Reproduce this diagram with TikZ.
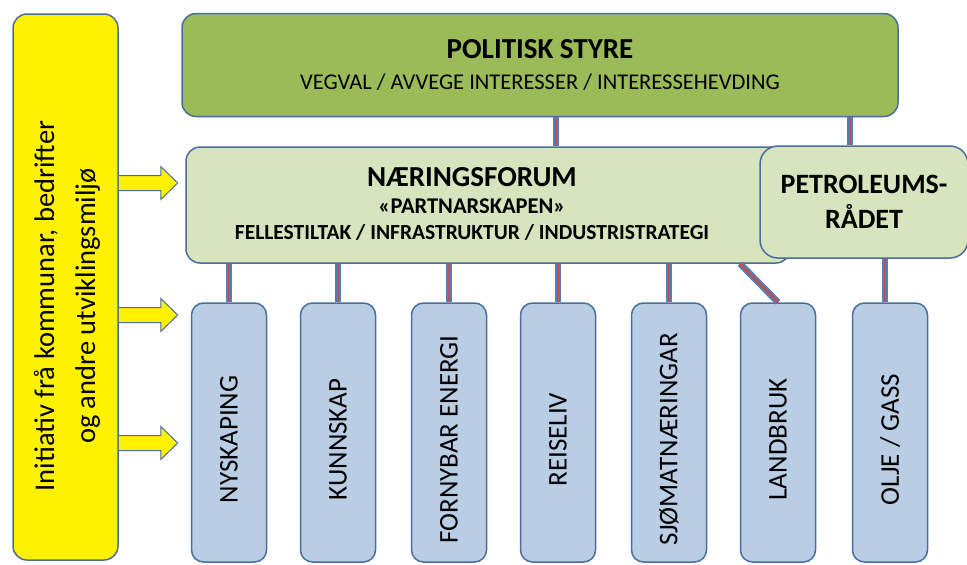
\documentclass[tikz,border=0pt]{standalone}
\usepackage{fontspec}
\setmainfont{Carlito}
\usepackage{tikz}
\usetikzlibrary{positioning,calc}

\definecolor{bordblue}{HTML}{4A6E9C}
\definecolor{styregreen}{HTML}{9BBB59}
\definecolor{forumgreen}{HTML}{D7E4BD}
\definecolor{sectorblue}{HTML}{B9CDE5}
\definecolor{linkred}{HTML}{C0504D}
\definecolor{linkblue}{HTML}{4F81BD}

\begin{document}
\begin{tikzpicture}[x=1pt,y=-1pt,
  box/.style={draw=bordblue, line width=1.5pt, rounded corners=14pt, inner sep=0pt, align=center},
  initbox/.style={box, fill=yellow, minimum width=105pt, minimum height=546pt},
  styrebox/.style={box, fill=styregreen, minimum width=716pt, minimum height=103pt},
  forumbox/.style={box, fill=forumgreen, minimum width=604pt, minimum height=116pt},
  petrobox/.style={box, fill=forumgreen, rounded corners=18pt, minimum width=208pt, minimum height=112pt},
  sector/.style={box, fill=sectorblue, rounded corners=12pt, minimum width=75pt, minimum height=259pt,
    font=\fontsize{27}{30}\selectfont},
  link/.style={draw=linkblue, line width=2pt, double=linkred, double distance=2.6pt},
  push/.style={draw=bordblue, line width=1pt, fill=yellow}]
\useasboundingbox (0,0) rectangle (967,565);

% left column, initiatives
\node[initbox] (init) at (65.5,287) {};
\node[rotate=90, align=center, font=\fontsize{28.5}{41}\selectfont] (inittext) at (67,306)
  {Initiativ frå kommunar, bedrifter\\og andre utviklingsmiljø};

% top level
\node[styrebox, font=\fontsize{22.5}{31}\selectfont] (styre) at (540,65)
  {{\fontsize{29}{31}\selectfont\bfseries POLITISK STYRE}\\VEGVAL / AVVEGE INTERESSER / INTERESSEHEVDING};

% forum and petroleum council
\node[forumbox] (nforum) at (488,205) {};
\node[align=center, font=\fontsize{21.5}{26}\selectfont\bfseries] (nforumtext) at (472,204)
  {{\fontsize{29}{30}\selectfont NÆRINGSFORUM}\\[1pt]{\fontsize{22.5}{26}\selectfont «PARTNARSKAPEN»}\\FELLESTILTAK / INFRASTRUKTUR / INDUSTRISTRATEGI};
\node[petrobox, font=\fontsize{28}{35}\selectfont\bfseries] (petro) at (864,202) {PETROLEUMS-\\RÅDET};

% sectors
\foreach \x/\name/\txt in {229/nyskaping/NYSKAPING, 338/kunnskap/KUNNSKAP,
    449/fornybar/FORNYBAR ENERGI, 558/reiseliv/REISELIV, 669/sjomat/SJØMATNÆRINGAR,
    778/landbruk/LANDBRUK, 890/olje/{OLJE / GASS}}
  \node[sector] (\name) at (\x,432.5) {\rotatebox{90}{\txt\hspace{14pt}}};

% connectors
\draw[link] (styre.south -| 556,0) -- (nforum.north -| 556,0);
\draw[link] (styre.south -| 850,0) -- (petro.north -| 850,0);
\foreach \s in {nyskaping,kunnskap,fornybar,reiseliv,sjomat}
  \draw[link] (nforum.south -| \s.north) -- (\s.north);
\draw[link] (nforum.south -| 740,0) -- (landbruk.north);
\draw[link] (petro.south -| 885,0) -- (olje.north -| 885,0);

% yellow arrows
\foreach \y in {183,315,443}
  \draw[push] (init.east |- 0,\y) ++(0,-7.5) -- ++(42,0) -- ++(0,-9) -- ++(17,16.5)
    -- ++(-17,16.5) -- ++(0,-9) -- ++(-42,0);

\end{tikzpicture}
\end{document}
